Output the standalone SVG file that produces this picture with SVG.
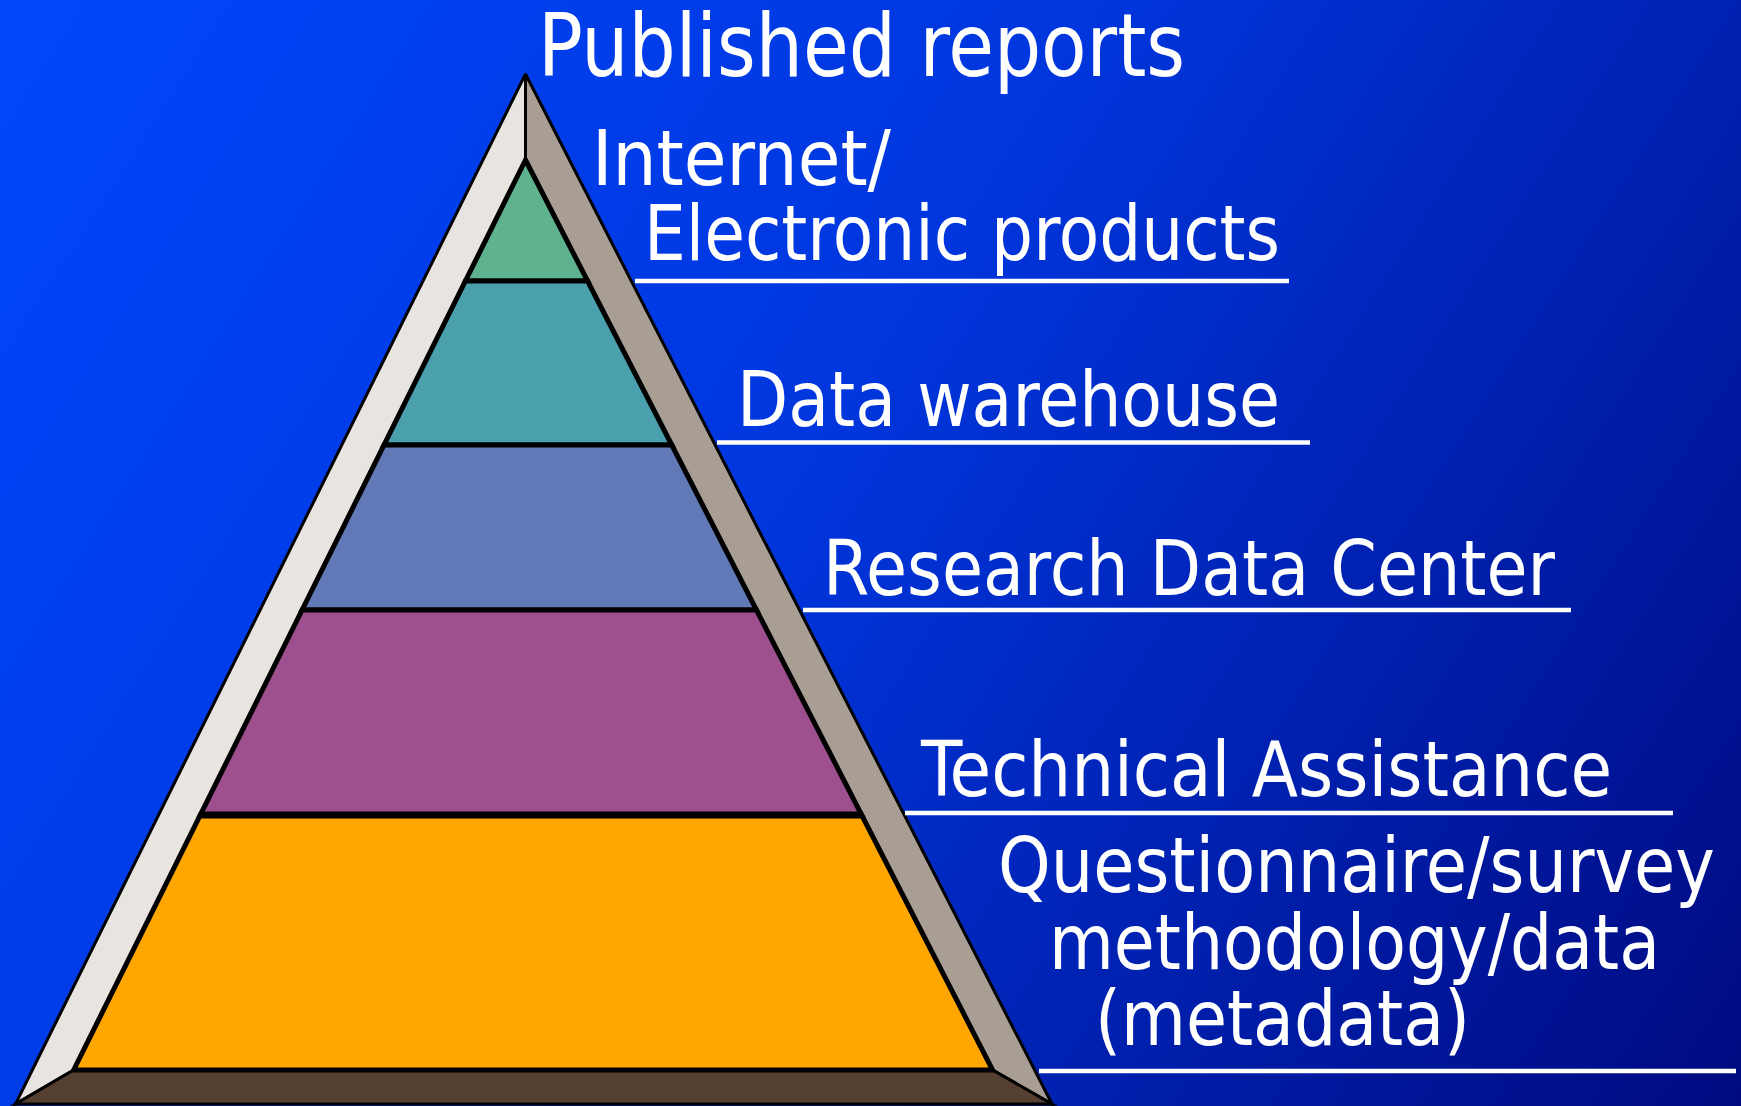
<svg xmlns="http://www.w3.org/2000/svg" width="1741" height="1106" viewBox="0 0 1741 1106">
<defs>
<linearGradient id="bg" gradientUnits="userSpaceOnUse" x1="0" y1="0" x2="1741" y2="1106">
<stop offset="0" stop-color="#0047FC"/>
<stop offset="0.45" stop-color="#0036DD"/>
<stop offset="1" stop-color="#000A80"/>
</linearGradient>
<style>
.lbl{font-family:"DejaVu Sans","Liberation Sans",sans-serif;font-stretch:condensed;fill:#FFFFFF;font-size:76px}
.ul{stroke:#FFFFFF;stroke-width:4.5}
.band{stroke:#000;stroke-width:5;stroke-linejoin:miter}
.face{stroke:#000;stroke-width:3;stroke-linejoin:miter}
</style>
</defs>
<rect x="0" y="0" width="1741" height="1106" fill="url(#bg)"/>
<g id="pyramid-faces">
<polygon class="face" points="525.5,74 15.5,1104 73.7,1070 525.5,160" fill="#E8E4E0"/>
<polygon class="face" points="525.5,74 525.5,160 992.6,1070 1052,1104" fill="#A89E94"/>
<polygon class="face" points="15.5,1104 1052,1104 992.6,1070 73.7,1070" fill="#553F30"/>
</g>
<g id="layer-internet">
<polygon class="band" points="525.5,160 587.6,281 465.4,281" fill="#5FB28E"/>
</g>
<g id="layer-warehouse">
<polygon class="band" points="465.4,281 587.6,281 671.8,445 384,445" fill="#4AA0AC"/>
</g>
<g id="layer-rdc">
<polygon class="band" points="384,445 671.8,445 756.5,610 302.1,610" fill="#6279B8"/>
</g>
<g id="layer-ta">
<polygon class="band" points="302.1,610 756.5,610 861.7,815 200.3,815" fill="#9D4F8E"/>
</g>
<g id="layer-metadata">
<polygon class="band" points="200.3,815 861.7,815 992.6,1070 73.7,1070" fill="#FFA700"/>
<line x1="199" y1="815" x2="863" y2="815" stroke="#000" stroke-width="7"/>
</g>
<g id="labels">
<text class="lbl" x="538" y="76" font-size="88" style="font-size:88px" textLength="647" lengthAdjust="spacingAndGlyphs">Published reports</text>
<text class="lbl" x="592" y="185" textLength="299" lengthAdjust="spacingAndGlyphs">Internet/</text>
<text class="lbl" x="644" y="260" textLength="636" lengthAdjust="spacingAndGlyphs">Electronic products</text>
<text class="lbl" x="737" y="426" textLength="543" lengthAdjust="spacingAndGlyphs">Data warehouse</text>
<text class="lbl" x="823" y="595" textLength="732" lengthAdjust="spacingAndGlyphs">Research Data Center</text>
<text class="lbl" x="921" y="796" textLength="691" lengthAdjust="spacingAndGlyphs">Technical Assistance</text>
<text class="lbl" x="998" y="892" textLength="717" lengthAdjust="spacingAndGlyphs">Questionnaire/survey</text>
<text class="lbl" x="1049" y="969" textLength="611" lengthAdjust="spacingAndGlyphs">methodology/data</text>
<text class="lbl" x="1095" y="1045" textLength="375" lengthAdjust="spacingAndGlyphs">(metadata)</text>
</g>
<g id="connectors">
<line class="ul" x1="635" y1="281" x2="1289" y2="281"/>
<line class="ul" x1="717" y1="442.5" x2="1310" y2="442.5"/>
<line class="ul" x1="803" y1="610" x2="1571" y2="610"/>
<line class="ul" x1="905" y1="813" x2="1673" y2="813"/>
<line class="ul" x1="1039" y1="1071" x2="1736" y2="1071"/>
</g>
</svg>
